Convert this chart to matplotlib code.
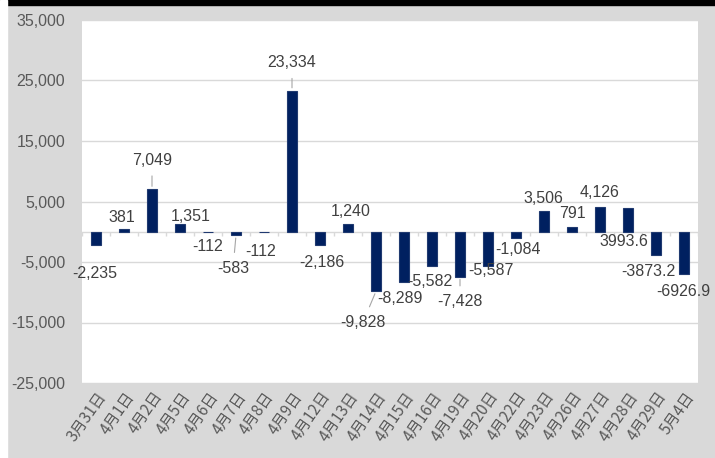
import matplotlib.pyplot as plt
from matplotlib.patches import Rectangle
from matplotlib.ticker import FuncFormatter
import numpy as np

plt.rcParams['font.family'] = ['Liberation Sans', 'Noto Sans CJK SC', 'DejaVu Sans']

dates = ['3月31日', '4月1日', '4月2日', '4月5日', '4月6日', '4月7日', '4月8日',
         '4月9日', '4月12日', '4月13日', '4月14日', '4月15日', '4月16日',
         '4月19日', '4月20日', '4月22日', '4月23日', '4月26日', '4月27日',
         '4月28日', '4月29日', '5月4日']
values = [-2235, 381, 7049, 1351, -112, -583, -112, 23334, -2186, 1240,
          -9828, -8289, -5582, -7428, -5587, -1084, 3506, 791, 4126,
          3993.6, -3873.2, -6926.9]

# label offsets from bar tip (pixels), and which labels have leader lines
label_off = [(-1, -28), (-2, 12), (0, 29), (11, 7), (0, -14), (-3, -33),
             (-3, -19), (0, 28), (2, -18), (3, 13), (-13, -31), (-4, -17),
             (-2, -16), (0, -25), (3, -5), (2, -11), (-1, 12), (0, 13),
             (0, 14), (-4, -34), (-8, -16), (-1, -18)]
leaders = {2, 5, 7, 10, 13}

W, H = 715, 458
fig = plt.figure(figsize=(W / 100, H / 100), dpi=100, facecolor='#d9d9d9')
fig.patches.append(Rectangle((0, 1 - 5 / H), 1, 5 / H, transform=fig.transFigure,
                             color='black', zorder=0))
fig.patches.append(Rectangle((0, 0), 7 / W, 1, transform=fig.transFigure,
                             color='white', zorder=0))

ax = fig.add_axes([82 / W, 1 - 383 / H, 616 / W, 363 / H])
ax.set_facecolor('white')

x = np.arange(len(dates))
ax.bar(x, values, width=0.36, color='#002060', edgecolor='#203a70', lw=0.8,
       zorder=3)

ax.set_xlim(-0.5, len(dates) - 0.5)
ax.set_ylim(-25000, 35000)
ax.set_yticks(np.arange(-25000, 35001, 10000))
ax.yaxis.set_major_formatter(FuncFormatter(lambda v, p: f'{v:,.0f}'))
ax.grid(axis='y', color='#d9d9d9', lw=1, zorder=0)
ax.axhline(0, color='#d9d9d9', lw=1, zorder=2)
ax.vlines(np.arange(len(dates) + 1) - 0.5, -750, 0, color='#d9d9d9', lw=1, zorder=2)

for s in ax.spines.values():
    s.set_visible(False)

ax.tick_params(axis='y', length=0, pad=12, labelsize=11.5, labelcolor='#595959')
ax.tick_params(axis='x', length=0, pad=4, labelcolor='#595959')
ax.set_xticks(x)
ax.set_xticklabels(dates, rotation=55, ha='right', rotation_mode='anchor',
                   fontsize=11, family=['Noto Sans CJK SC', 'DejaVu Sans'])

for i, v in enumerate(values):
    txt = f'{v:,.0f}' if v == int(v) else f'{v:.1f}'
    dx, dy = label_off[i]
    ap = None
    if i in leaders:
        ap = dict(arrowstyle='-', color='#a6a6a6', lw=0.8, shrinkA=4, shrinkB=2)
    ax.annotate(txt, xy=(i, v), xytext=(dx, dy), textcoords='offset pixels',
                ha='center', va='center', fontsize=11.5, color='#404040',
                arrowprops=ap, zorder=4, annotation_clip=False)

fig.savefig('out.png', dpi=100, facecolor=fig.get_facecolor())
